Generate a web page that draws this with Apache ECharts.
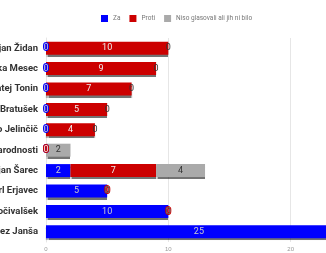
<!DOCTYPE html>
<html><head><meta charset="utf-8">
<script src="https://cdn.jsdelivr.net/npm/echarts@6/dist/echarts.min.js"></script>
<style>html,body{margin:0;padding:0;background:#fff}#c{width:326px;height:253px}</style>
</head><body><div id="c"></div>
<script>
const categories = ["Dejan Židan","Luka Mesec","Matej Tonin","Alenka Bratušek","Zmago Jelinčič","Narodnosti","Marjan Šarec","Karl Erjavec","Zdravko Počivalšek","Janez Janša"];
const seriesNames = ["Za","Proti","Niso glasovali ali jih ni bilo"];
const za = [0,0,0,0,0,0,2,5,10,25];
const proti = [10,9,7,5,4,0,7,0,0,0];
const niso = [0,0,0,0,0,2,4,0,0,0];
const xTicks = [0,10,20,30];
const colors = ["#0000ff","#cc0000","#aaaaaa"];

const chart = echarts.init(document.getElementById('c'));
const mk = (name, data, color) => ({
  name, type:'bar', stack:'s', data, barWidth:13,
  itemStyle:{color, shadowColor:'rgba(0,0,0,0.55)', shadowOffsetY:2, shadowBlur:1},
  label:{show:true, position:'inside', fontSize:9, fontFamily:'Roboto'}
});
chart.setOption({
  animation:false,
  color: colors,
  legend:{top:10, left:96, itemWidth:7, itemHeight:7, itemGap:9,
    textStyle:{fontSize:6.5, color:'#777', fontFamily:'Roboto'}, icon:'rect'},
  grid:{left:46, top:38, bottom:11, width:367, containLabel:false, outerBoundsMode:'none'},
  xAxis:{type:'value', min:xTicks[0], max:xTicks[xTicks.length-1], interval:10,
    axisLabel:{fontSize:6, color:'#999', margin:4},
    splitLine:{lineStyle:{color:'#e6e6e6'}}},
  yAxis:{type:'category', data:categories, inverse:true,
    axisLine:{show:true, lineStyle:{color:'#e6e6e6'}}, axisTick:{show:false},
    axisLabel:{fontSize:9.5, color:'#333', fontWeight:'bold', fontFamily:'Roboto', margin:8}},
  series:[mk(seriesNames[0], za, colors[0]), mk(seriesNames[1], proti, colors[1]), mk(seriesNames[2], niso, colors[2])]
});
</script></body></html>
